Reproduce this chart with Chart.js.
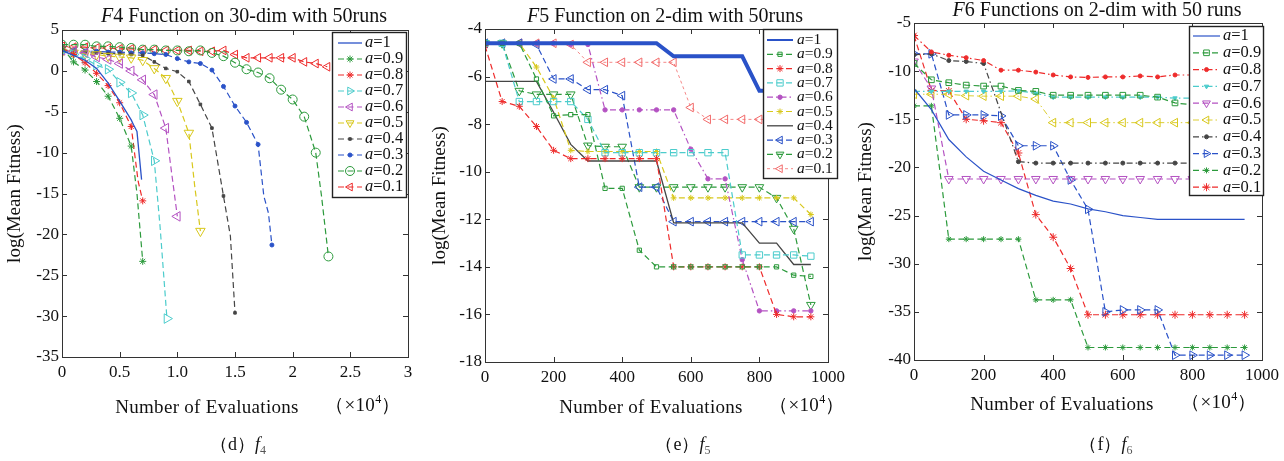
<!DOCTYPE html>
<html>
<head>
<meta charset="utf-8">
<script src="https://cdn.jsdelivr.net/npm/chart.js"></script>
<style>
  body { margin: 0; background: #fff; }
  #wrap { position: relative; width: 1284px; height: 461px; background: #fff; overflow: hidden; }
  canvas { position: absolute; top: 0; }
  .t { position: absolute; transform: translate(-50%, -50%); white-space: nowrap;
       font-family: 'Liberation Serif', 'Times New Roman', serif; color: #111; }
  .title { font-size: 20px; }
  .xl { font-size: 19px; letter-spacing: 0.3px; }
  .cap { font-size: 18px; }
  sup { font-size: 12px; vertical-align: 8px; }
  sub { font-size: 12px; vertical-align: -4px; color: #555; }
</style>
</head>
<body>
<div id="wrap">
  <canvas id="c1" width="420" height="461" style="left:0"></canvas>
  <canvas id="c2" width="430" height="461" style="left:420px"></canvas>
  <canvas id="c3" width="434" height="461" style="left:850px"></canvas>

  <div class="t title" style="left:244px;top:15px"><i>F</i>4 Function on 30-dim with 50runs</div>
  <div class="t title" style="left:665px;top:15px"><i>F</i>5 Function on 2-dim with 50runs</div>
  <div class="t title" style="left:1097px;top:9px"><i>F</i>6 Functions on 2-dim with 50 runs</div>

  <div class="t xl" style="left:207px;top:407px">Number of Evaluations</div>
  <div class="t xl" style="left:363px;top:405px">（×10<sup>4</sup>）</div>
  <div class="t xl" style="left:651px;top:407px">Number of Evaluations</div>
  <div class="t xl" style="left:807px;top:405px">（×10<sup>4</sup>）</div>
  <div class="t xl" style="left:1062px;top:404px">Number of Evaluations</div>
  <div class="t xl" style="left:1219px;top:402px">（×10<sup>4</sup>）</div>

  <div class="t cap" style="left:238px;top:445px">（d）<i>f</i><sub>4</sub></div>
  <div class="t cap" style="left:683px;top:445px">（e）<i>f</i><sub>5</sub></div>
  <div class="t cap" style="left:1106px;top:445px">（f）<i>f</i><sub>6</sub></div>
</div>

<script>
// legend values of a
const alphas = ['1', '0.9', '0.8', '0.7', '0.6', '0.5', '0.4', '0.3', '0.2', '0.1'];

// tick labels
const f4XTicks = ['0', '0.5', '1.0', '1.5', '2', '2.5', '3'];
const f4YTicks = ['5', '0', '-5', '-10', '-15', '-20', '-25', '-30', '-35'];
const f5XTicks = ['0', '200', '400', '600', '800', '1000'];
const f5YTicks = ['-4', '-6', '-8', '-10', '-12', '-14', '-16', '-18'];
const f6XTicks = ['0', '200', '400', '600', '800', '1000'];
const f6YTicks = ['-5', '-10', '-15', '-20', '-25', '-30', '-35', '-40'];

// F4 (x in 10^4 evaluations)
const f4_a1  = [[0,2.5],[0.1,1.9],[0.2,1.3],[0.3,0.3],[0.4,-1.5],[0.5,-3.7],[0.6,-6.0],[0.62,-6.6],[0.65,-7.4],[0.69,-13.3]];
const f4_a09 = [[0,2.9],[0.1,1.1],[0.2,0.1],[0.3,-1.3],[0.4,-3.1],[0.5,-5.8],[0.6,-9.2],[0.65,-15],[0.7,-23.3]];
const f4_a08 = [[0,2.8],[0.1,2.0],[0.2,1.0],[0.3,-0.3],[0.4,-1.8],[0.5,-3.9],[0.6,-6.8],[0.66,-13.5],[0.7,-15.9]];
const f4_a07 = [[0,2.4],[0.1,2.0],[0.2,1.5],[0.3,0.7],[0.4,0.2],[0.5,-1.4],[0.6,-2.7],[0.7,-5.4],[0.8,-11.0],[0.85,-19],[0.91,-30.3]];
const f4_a06 = [[0,2.5],[0.1,2.4],[0.2,2.2],[0.3,1.7],[0.4,1.4],[0.5,0.9],[0.6,0.0],[0.7,-1.1],[0.8,-2.9],[0.9,-7.0],[0.96,-13.5],[1.0,-17.8]];
const f4_a05 = [[0,2.3],[0.1,2.2],[0.2,2.1],[0.3,2.0],[0.4,1.8],[0.5,1.7],[0.6,1.6],[0.7,1.3],[0.8,0.3],[0.9,-0.9],[1.0,-3.7],[1.1,-7.6],[1.15,-14],[1.2,-19.6]];
const f4_a04 = [[0,2.4],[0.1,2.3],[0.2,2.2],[0.3,2.2],[0.4,2.1],[0.5,2.1],[0.6,2.0],[0.7,1.9],[0.8,1.1],[0.9,0.3],[1.0,-0.1],[1.1,-1.3],[1.2,-4.1],[1.3,-7.0],[1.4,-15.3],[1.46,-20.2],[1.5,-29.6]];
const f4_a03 = [[0,2.5],[0.1,2.5],[0.2,2.4],[0.3,2.4],[0.4,2.3],[0.5,2.3],[0.6,2.2],[0.7,2.2],[0.8,2.1],[0.9,2.0],[1.0,1.5],[1.1,1.1],[1.2,0.9],[1.3,0.1],[1.4,-1.9],[1.5,-4.3],[1.6,-6.3],[1.7,-9.0],[1.75,-15.3],[1.79,-17.4],[1.82,-21.3]];
const f4_a02 = [[0,3.2],[0.1,3.2],[0.2,3.2],[0.3,3.0],[0.4,3.0],[0.5,2.9],[0.6,2.8],[0.7,2.6],[0.8,2.6],[0.9,2.5],[1.0,2.5],[1.1,2.4],[1.2,2.5],[1.3,2.2],[1.4,1.8],[1.5,1.0],[1.6,0.2],[1.7,-0.2],[1.8,-0.9],[1.9,-2.3],[2.0,-3.5],[2.1,-5.6],[2.2,-10.0],[2.25,-15.3],[2.31,-22.7]];
const f4_a01 = [[0,3.0],[0.1,2.9],[0.2,2.9],[0.3,2.8],[0.4,2.8],[0.5,2.7],[0.6,2.7],[0.7,2.6],[0.8,2.6],[0.9,2.5],[1.0,2.5],[1.1,2.5],[1.2,2.4],[1.3,2.4],[1.4,2.5],[1.5,2.0],[1.6,1.6],[1.7,1.6],[1.8,1.6],[1.9,1.6],[2.0,1.6],[2.1,1.1],[2.2,0.9],[2.3,0.5]];

// F5
const f5_a1  = [[0,-4.6],[500,-4.6],[550,-5.15],[750,-5.15],[800,-6.6],[950,-6.6]];
const f5_a09 = [[0,-4.6],[50,-4.6],[100,-4.6],[150,-6.1],[200,-7.65],[250,-7.6],[300,-7.6],[350,-10.7],[400,-10.7],[450,-13.3],[500,-14.0],[550,-14.0],[600,-14.0],[650,-14.0],[700,-14.0],[750,-14.0],[800,-14.0],[850,-14.0],[900,-14.35],[950,-14.4]];
const f5_a08 = [[0,-4.7],[50,-7.05],[100,-7.25],[150,-8.1],[200,-9.1],[250,-9.45],[300,-9.45],[350,-9.45],[400,-9.45],[450,-9.45],[500,-9.45],[550,-14.0],[600,-14.0],[650,-14.0],[700,-14.0],[750,-14.0],[800,-14.0],[850,-16.0],[900,-16.1],[950,-16.1]];
const f5_a07 = [[0,-4.6],[50,-4.6],[100,-7.05],[150,-7.05],[200,-7.05],[250,-7.05],[300,-7.8],[350,-9.2],[400,-9.2],[450,-9.2],[500,-9.2],[550,-9.2],[600,-9.2],[650,-9.2],[700,-9.2],[750,-13.5],[800,-13.5],[850,-13.5],[900,-13.5],[950,-13.55]];
const f5_a06 = [[0,-4.6],[50,-4.6],[100,-4.6],[150,-4.6],[200,-4.6],[250,-4.65],[300,-4.65],[350,-7.4],[400,-7.4],[450,-7.4],[500,-7.4],[550,-7.4],[600,-9.05],[650,-10.3],[700,-10.3],[750,-13.7],[800,-15.85],[850,-15.85],[900,-15.85],[950,-15.85]];
const f5_a05 = [[0,-4.6],[50,-4.6],[100,-4.6],[150,-5.6],[200,-6.9],[250,-9.1],[300,-9.15],[350,-9.15],[400,-9.15],[450,-9.15],[500,-9.15],[550,-11.1],[600,-11.1],[650,-11.1],[700,-11.1],[750,-11.1],[800,-11.1],[850,-11.1],[900,-11.1],[950,-11.8]];
const f5_a04 = [[0,-6.2],[50,-6.2],[100,-6.2],[150,-6.2],[200,-7.5],[250,-8.85],[300,-9.55],[350,-9.55],[400,-9.55],[450,-9.55],[500,-9.55],[550,-12.15],[600,-12.15],[650,-12.15],[700,-12.15],[750,-12.15],[800,-13.0],[850,-13.0],[900,-13.9],[950,-13.9]];
const f5_a03 = [[0,-4.6],[50,-4.6],[100,-4.6],[150,-4.65],[200,-6.1],[250,-6.1],[300,-6.55],[350,-6.55],[400,-6.8],[450,-10.65],[500,-10.65],[550,-12.1],[600,-12.1],[650,-12.1],[700,-12.1],[750,-12.1],[800,-12.1],[850,-12.1],[900,-12.1],[950,-12.1]];
const f5_a02 = [[0,-4.6],[50,-4.6],[100,-6.6],[150,-6.75],[200,-6.75],[250,-6.75],[300,-8.9],[350,-8.95],[400,-8.95],[450,-10.65],[500,-10.65],[550,-10.65],[600,-10.65],[650,-10.65],[700,-10.65],[750,-10.65],[800,-10.65],[850,-11.1],[900,-12.4],[950,-15.6]];
const f5_a01 = [[0,-4.6],[50,-4.6],[100,-4.6],[150,-4.6],[200,-4.6],[250,-4.65],[300,-5.4],[350,-5.4],[400,-5.4],[450,-5.4],[500,-5.4],[550,-5.4],[600,-7.3],[650,-7.8],[700,-7.8],[750,-7.8],[800,-7.8],[850,-7.8],[900,-7.8],[950,-7.8]];

// F6
const f6_a1  = [[0,-11.8],[50,-14.0],[100,-17.1],[150,-18.9],[200,-20.4],[250,-21.3],[300,-22.2],[350,-22.9],[400,-23.5],[450,-23.8],[500,-24.3],[550,-24.6],[600,-25.0],[650,-25.2],[700,-25.4],[950,-25.4]];
const f6_a09 = [[0,-9.2],[50,-10.9],[100,-11.2],[150,-11.45],[200,-11.55],[250,-11.55],[300,-12.0],[350,-12.1],[400,-12.5],[450,-12.5],[500,-12.5],[550,-12.5],[600,-12.5],[650,-12.5],[700,-12.7],[750,-13.3],[800,-13.5],[850,-13.5],[900,-13.5],[950,-13.5]];
const f6_a08 = [[0,-6.3],[50,-8.0],[100,-8.35],[150,-8.6],[200,-8.9],[250,-9.9],[300,-9.9],[350,-10.1],[400,-10.4],[450,-10.6],[500,-10.65],[550,-10.6],[600,-10.6],[650,-10.5],[700,-10.6],[750,-10.4],[800,-10.4],[850,-10.4],[900,-10.4],[950,-10.4]];
const f6_a07 = [[0,-12.1],[50,-12.1],[100,-12.1],[150,-12.1],[200,-12.1],[250,-12.1],[300,-12.05],[350,-12.3],[400,-12.7],[450,-12.7],[500,-12.7],[550,-12.7],[600,-12.7],[650,-12.7],[700,-12.7],[750,-12.8],[800,-12.8],[850,-12.8],[900,-12.8],[950,-12.8]];
const f6_a06 = [[0,-9.0],[50,-11.8],[100,-21.2],[150,-21.2],[200,-21.2],[250,-21.2],[300,-21.2],[350,-21.2],[400,-21.2],[450,-21.2],[500,-21.2],[550,-21.2],[600,-21.2],[650,-21.2],[700,-21.2],[750,-21.2],[800,-21.2],[850,-21.2],[900,-21.2],[950,-21.2]];
const f6_a05 = [[0,-12.4],[50,-12.4],[100,-12.4],[150,-12.55],[200,-12.6],[250,-12.6],[300,-12.6],[350,-12.9],[400,-15.35],[450,-15.35],[500,-15.35],[550,-15.35],[600,-15.35],[650,-15.35],[700,-15.35],[750,-15.35],[800,-15.35],[850,-15.35],[900,-15.35],[950,-15.35]];
const f6_a04 = [[0,-8.3],[50,-8.2],[100,-8.9],[150,-9.0],[200,-9.2],[300,-19.4],[350,-19.55],[400,-19.55],[450,-19.55],[500,-19.55],[550,-19.55],[600,-19.55],[650,-19.55],[700,-19.55],[750,-19.55],[800,-19.55],[850,-19.55],[900,-19.55],[950,-19.55]];
const f6_a03 = [[0,-8.2],[50,-8.2],[100,-14.55],[150,-14.55],[200,-14.55],[250,-14.65],[300,-17.75],[350,-17.75],[400,-17.75],[450,-21.3],[500,-24.35],[550,-35.0],[600,-34.8],[650,-34.8],[700,-34.8],[750,-39.5],[800,-39.5],[850,-39.5],[900,-39.5],[950,-39.5]];
const f6_a02 = [[0,-13.6],[50,-13.6],[100,-27.45],[150,-27.45],[200,-27.45],[250,-27.45],[300,-27.45],[350,-33.75],[400,-33.75],[450,-33.75],[500,-38.7],[550,-38.7],[600,-38.7],[650,-38.7],[700,-38.7],[750,-38.7],[800,-38.7],[850,-38.7],[900,-38.7],[950,-38.7]];
const f6_a01 = [[0,-6.3],[50,-12.0],[100,-12.05],[150,-15.0],[200,-15.15],[250,-15.35],[300,-18.5],[350,-24.9],[400,-27.25],[450,-30.5],[500,-35.3],[550,-35.3],[600,-35.3],[650,-35.3],[700,-35.3],[750,-35.3],[800,-35.3],[850,-35.3],[900,-35.3],[950,-35.3]];

const FONT = 'Liberation Serif';
const BLUE = '#2a52c8', GREEN = '#2c9a3c', RED = '#ee2b2b', CYAN = '#4ccccc',
      MAG = '#b452c2', YEL = '#d8c81c', GRAY = '#454545';
const DASH = [6, 3.5], DASHDOT = [6, 3, 1.5, 3];

// line / marker styles per series (a=1 ... a=0.1)
const f4Styles = [
  { c: BLUE, dash: [], w: 1.3 },
  { c: GREEN, dash: DASH, pt: 'star', r: 3.5 },
  { c: RED, dash: DASH, pt: 'star', r: 3.5 },
  { c: CYAN, dash: DASH, pt: 'triangle', rot: 90, r: 5.5 },
  { c: MAG, dash: DASH, pt: 'triangle', rot: -90, r: 5.5 },
  { c: YEL, dash: DASH, pt: 'triangle', rot: 180, r: 5.5 },
  { c: GRAY, dash: DASH, pt: 'rect', r: 1.8, fill: true },
  { c: BLUE, dash: DASH, pt: 'circle', r: 2, fill: true },
  { c: GREEN, dash: DASH, pt: 'circle', r: 4.5 },
  { c: RED, dash: DASH, pt: 'triangle', rot: -90, r: 5 }
];
const f5Styles = [
  { c: BLUE, dash: [], w: 4, legW: 2 },
  { c: GREEN, dash: DASH, pt: 'rect', r: 3 },
  { c: RED, dash: DASH, pt: 'star', r: 3.5 },
  { c: CYAN, dash: DASH, pt: 'rect', r: 4.5 },
  { c: MAG, dash: DASHDOT, pt: 'circle', r: 2.2, fill: true },
  { c: YEL, dash: DASH, pt: 'star', r: 3 },
  { c: GRAY, dash: [], w: 1.3 },
  { c: BLUE, dash: DASH, pt: 'triangle', rot: -90, r: 5 },
  { c: GREEN, dash: DASH, pt: 'triangle', rot: 180, r: 5 },
  { c: '#f26a6a', dash: [3, 3], pt: 'triangle', rot: -90, r: 5, w: 0.8 }
];
const f6Styles = [
  { c: BLUE, dash: [], w: 1.2 },
  { c: GREEN, dash: DASH, pt: 'rect', r: 4 },
  { c: RED, dash: DASHDOT, pt: 'circle', r: 2, fill: true },
  { c: CYAN, dash: DASHDOT, pt: 'triangle', rot: 180, r: 2.5, fill: true },
  { c: MAG, dash: DASH, pt: 'triangle', rot: 180, r: 5 },
  { c: YEL, dash: DASHDOT, pt: 'triangle', rot: -90, r: 5, w: 0.9 },
  { c: GRAY, dash: DASHDOT, pt: 'circle', r: 2, fill: true },
  { c: BLUE, dash: DASH, pt: 'triangle', rot: 90, r: 5 },
  { c: GREEN, dash: DASH, pt: 'star', r: 3 },
  { c: RED, dash: DASH, pt: 'star', r: 4 }
];

function markerOn(ctx, step) {
  const d = ctx.raw;
  if (!d) return false;
  const k = d.x / step;
  return Math.abs(k - Math.round(k)) < 1e-6 || ctx.dataIndex === ctx.dataset.data.length - 1;
}

// box around plot with inward ticks, and a MATLAB-like legend
const framePlugin = {
  id: 'frame',
  afterDatasetsDraw(chart) {
    const { ctx, chartArea: a, scales: { x, y } } = chart;
    ctx.save();
    ctx.strokeStyle = '#333';
    ctx.lineWidth = 1;
    ctx.setLineDash([]);
    ctx.strokeRect(Math.round(a.left) + 0.5, Math.round(a.top) + 0.5,
                   Math.round(a.right - a.left), Math.round(a.bottom - a.top));
    ctx.beginPath();
    x.ticks.forEach(t => {
      const px = Math.round(x.getPixelForValue(t.value)) + 0.5;
      ctx.moveTo(px, a.bottom); ctx.lineTo(px, a.bottom - 5);
      ctx.moveTo(px, a.top); ctx.lineTo(px, a.top + 5);
    });
    y.ticks.forEach(t => {
      const py = Math.round(y.getPixelForValue(t.value)) + 0.5;
      ctx.moveTo(a.left, py); ctx.lineTo(a.left + 5, py);
      ctx.moveTo(a.right, py); ctx.lineTo(a.right - 5, py);
    });
    ctx.stroke();
    ctx.restore();
  },
  afterDraw(chart) {
    const o = chart.options.plugins.boxLegend;
    if (!o) return;
    const ctx = chart.ctx;
    ctx.save();
    ctx.fillStyle = '#fff';
    ctx.fillRect(o.x, o.y, o.w, o.h);
    ctx.strokeStyle = '#222';
    ctx.lineWidth = 1.4;
    ctx.setLineDash([]);
    ctx.strokeRect(o.x + 0.5, o.y + 0.5, o.w, o.h);
    chart.data.datasets.forEach((ds, i) => {
      const cy = o.y + o.first + i * o.row;
      ctx.strokeStyle = ds.borderColor;
      ctx.lineWidth = ds.legW || Math.min(ds.borderWidth, 1.3);
      ctx.setLineDash(ds.borderDash);
      ctx.beginPath();
      ctx.moveTo(o.l0, cy); ctx.lineTo(o.l1, cy);
      ctx.stroke();
      ctx.setLineDash([]);
      if (ds.mk > 0 && Chart.helpers && Chart.helpers.drawPoint) {
        ctx.fillStyle = ds.pointBackgroundColor;
        ctx.strokeStyle = ds.borderColor;
        ctx.lineWidth = 1;
        Chart.helpers.drawPoint(ctx, { pointStyle: ds.pointStyle, rotation: ds.pointRotation,
                                       radius: Math.min(ds.mk, 4.5), borderWidth: 1 }, (o.l0 + o.l1) / 2, cy);
      }
      ctx.fillStyle = '#111';
      ctx.textBaseline = 'middle';
      ctx.textAlign = 'left';
      ctx.font = 'italic ' + o.size + 'px ' + FONT;
      ctx.fillText('a', o.tx, cy);
      const w = ctx.measureText('a').width;
      ctx.font = o.size + 'px ' + FONT;
      ctx.fillText('=' + alphas[i], o.tx + w, cy);
    });
    ctx.restore();
  }
};

function makeChart(id, cfg) {
  const tickFont = { family: FONT, size: 17 };
  return new Chart(document.getElementById(id), {
    type: 'scatter',
    data: {
      datasets: cfg.series.map((pts, i) => {
        const s = cfg.styles[i];
        return {
          label: 'a=' + alphas[i],
          data: pts.map(p => ({ x: p[0], y: p[1] })),
          showLine: true,
          borderColor: s.c,
          borderWidth: s.w || 1.2,
          borderDash: s.dash,
          pointStyle: s.pt || 'circle',
          pointRotation: s.rot || 0,
          pointBorderColor: s.c,
          pointBackgroundColor: s.fill ? s.c : 'rgba(255,255,255,0)',
          pointBorderWidth: 1,
          pointRadius: c => (s.r && markerOn(c, cfg.step)) ? s.r : 0,
          tension: 0,
          mk: s.r || 0,
          legW: s.legW
        };
      })
    },
    options: {
      responsive: false,
      animation: false,
      devicePixelRatio: 1,
      events: [],
      layout: { padding: { left: 0, top: cfg.top, right: cfg.right, bottom: 0 } },
      plugins: { legend: { display: false }, tooltip: { enabled: false }, boxLegend: cfg.legend },
      scales: {
        x: {
          type: 'linear', min: cfg.xMin, max: cfg.xMax,
          afterFit: s => { s.height = cfg.xH; },
          grid: { display: false, drawTicks: false }, border: { display: false },
          ticks: {
            stepSize: cfg.xStep, autoSkip: false, maxRotation: 0, padding: 5,
            font: tickFont, color: '#111',
            callback: v => cfg.xTicks[Math.round((v - cfg.xMin) / cfg.xStep)]
          }
        },
        y: {
          min: cfg.yMin, max: cfg.yMax,
          afterFit: s => { s.width = cfg.yW; },
          grid: { display: false, drawTicks: false }, border: { display: false },
          ticks: {
            stepSize: cfg.yStep, autoSkip: false, padding: 3,
            font: tickFont, color: '#111',
            callback: v => cfg.yTicks[Math.round((cfg.yMax - v) / cfg.yStep)]
          },
          title: { display: true, text: 'log(Mean Fitness)', color: '#111',
                   font: { family: FONT, size: 19 }, padding: { top: cfg.tPad, bottom: 0 } }
        }
      }
    },
    plugins: [framePlugin]
  });
}

makeChart('c1', {
  series: [f4_a1, f4_a09, f4_a08, f4_a07, f4_a06, f4_a05, f4_a04, f4_a03, f4_a02, f4_a01],
  styles: f4Styles, step: 0.1,
  xMin: 0, xMax: 3, xStep: 0.5, xTicks: f4XTicks,
  yMin: -35, yMax: 5, yStep: 5, yTicks: f4YTicks,
  top: 30, right: 12, yW: 62, xH: 104, tPad: 4,
  legend: { x: 332, y: 32, w: 74, h: 165, first: 11, row: 16, l0: 338, l1: 362, tx: 365, size: 16.5 }
});

makeChart('c2', {
  series: [f5_a1, f5_a09, f5_a08, f5_a07, f5_a06, f5_a05, f5_a04, f5_a03, f5_a02, f5_a01],
  styles: f5Styles, step: 50,
  xMin: 0, xMax: 1000, xStep: 200, xTicks: f5XTicks,
  yMin: -18, yMax: -4, yStep: 2, yTicks: f5YTicks,
  top: 29, right: 13, yW: 65, xH: 99, tPad: 9,
  legend: { x: 343, y: 29, w: 74, h: 149, first: 11, row: 14.3, l0: 347, l1: 373, tx: 377, size: 15.5 }
});

makeChart('c3', {
  series: [f6_a1, f6_a09, f6_a08, f6_a07, f6_a06, f6_a05, f6_a04, f6_a03, f6_a02, f6_a01],
  styles: f6Styles, step: 50,
  xMin: 0, xMax: 1000, xStep: 200, xTicks: f6XTicks,
  yMin: -40, yMax: -5, yStep: 5, yTicks: f6YTicks,
  top: 23, right: 18, yW: 64, xH: 101, tPad: 5,
  legend: { x: 339, y: 26, w: 74, h: 169, first: 10, row: 16.8, l0: 343, l1: 370, tx: 373, size: 16.5 }
});
</script>
</body>
</html>
